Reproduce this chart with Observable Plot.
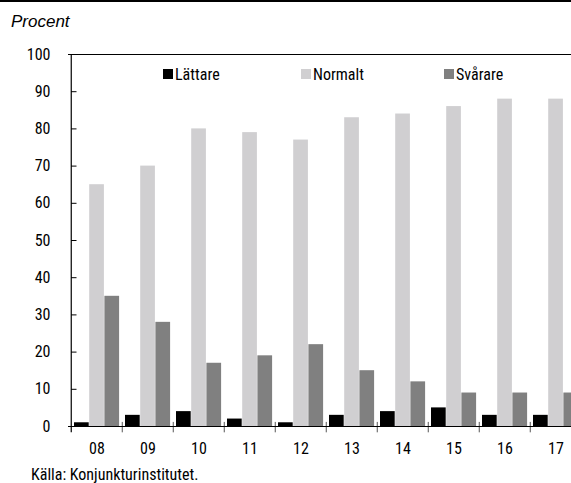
<!DOCTYPE html>
<html>
<head>
<meta charset="utf-8">
<script src="https://cdn.jsdelivr.net/npm/d3@7"></script>
<script src="https://cdn.jsdelivr.net/npm/@observablehq/plot@0.6"></script>
<style>
  html, body { margin: 0; padding: 0; background: #fff; }
  #wrap { position: relative; width: 571px; height: 483px; overflow: hidden; background: #fff; }
  #topbar { position: absolute; left: 0; top: 0; width: 571px; height: 2px; background: #000; }
  #unit { position: absolute; left: 11px; top: 12px; font: italic 17px "Liberation Sans", Arial, sans-serif; color: #000; }
  #chart { position: absolute; left: 0; top: 0; }
  #chart svg { max-width: none !important; }
  .cond { font-family: Roboto, "DejaVu Sans Condensed", sans-serif; font-stretch: 75%; }
  #legend { position: absolute; top: 64px; left: 0; width: 571px; height: 20px; font-size: 16px; }
  .item { position: absolute; top: 0; display: flex; align-items: center; height: 20px; }
  .sw { width: 10px; height: 10px; margin-right: 2px; }
  #source { position: absolute; left: 31px; top: 465px; font-size: 16px; color: #000; }
</style>
</head>
<body>
<div id="wrap">
  <div id="chart"></div>
  <div id="topbar"></div>
  <div id="unit">Procent</div>
  <div id="legend" class="cond"></div>
  <div id="source" class="cond">Källa: Konjunkturinstitutet.</div>
</div>
<script>
const years = ["08", "09", "10", "11", "12", "13", "14", "15", "16", "17"];
const lattare = [1, 3, 4, 2, 1, 3, 4, 5, 3, 3];
const normalt = [65, 70, 80, 79, 77, 83, 84, 86, 88, 88];
const svarare = [35, 28, 17, 19, 22, 15, 12, 9, 9, 9];
const yTicks = [0, 10, 20, 30, 40, 50, 60, 70, 80, 90, 100];
const seriesNames = ["Lättare", "Normalt", "Svårare"];
const seriesColors = ["#000000", "#d0cfd1", "#808080"];

const rows = (vals) => years.map((y, i) => ({year: y, value: vals[i]}));

const bw = 51.5;
const barW = 15.2;
const off = 3;

const chart = Plot.plot({
  width: 583,
  height: 460,
  marginTop: 54,
  marginBottom: 34,
  marginLeft: 68,
  marginRight: 0,
  style: {fontSize: "16px", color: "#000", background: "transparent"},
  x: {domain: years, range: [68, 68 + bw * years.length], padding: 0},
  y: {domain: [0, 100], range: [426, 54]},
  marks: [
    Plot.barY(rows(lattare), {x: "year", y: "value", fill: seriesColors[0], insetLeft: off, insetRight: bw - off - barW}),
    Plot.barY(rows(normalt), {x: "year", y: "value", fill: seriesColors[1], insetLeft: off + barW, insetRight: bw - off - 2 * barW}),
    Plot.barY(rows(svarare), {x: "year", y: "value", fill: seriesColors[2], insetLeft: off + 2 * barW, insetRight: bw - off - 3 * barW}),
    Plot.axisY(yTicks, {tickSize: 0, tickPadding: 18, fontSize: 16, label: null}),
    Plot.tickY(yTicks.slice(1, -1), {y: d => d, x: () => years[0], stroke: "#000", insetRight: bw - 6}),
    Plot.axisX(years, {tickSize: 0, tickPadding: 16, fontSize: 16, label: null}),
    Plot.ruleX(years.slice(1), {x: d => d, dx: -bw / 2, y1: 1.1, y2: -1.7, stroke: "#555"}),
    Plot.ruleY([0], {stroke: "#000", strokeWidth: 1.2}),
    Plot.ruleY([100], {stroke: "#000"}),
    Plot.ruleX([years[0]], {x: d => d, dx: -bw / 2, y1: 100, y2: -1.7, stroke: "#000", strokeWidth: 1.2})
  ]
});
chart.classList.add("cond");
chart.style.maxWidth = "none";
chart.style.fontFamily = 'Roboto, "DejaVu Sans Condensed", sans-serif';
chart.style.fontStretch = "75%";
document.getElementById("chart").appendChild(chart);

const legend = document.getElementById("legend");
const legendX = [163, 301, 444];
seriesNames.forEach((name, i) => {
  const item = document.createElement("div");
  item.className = "item";
  item.style.left = legendX[i] + "px";
  const sw = document.createElement("div");
  sw.className = "sw";
  sw.style.background = seriesColors[i];
  const t = document.createElement("span");
  t.textContent = name;
  item.appendChild(sw);
  item.appendChild(t);
  legend.appendChild(item);
});
</script>
</body>
</html>
